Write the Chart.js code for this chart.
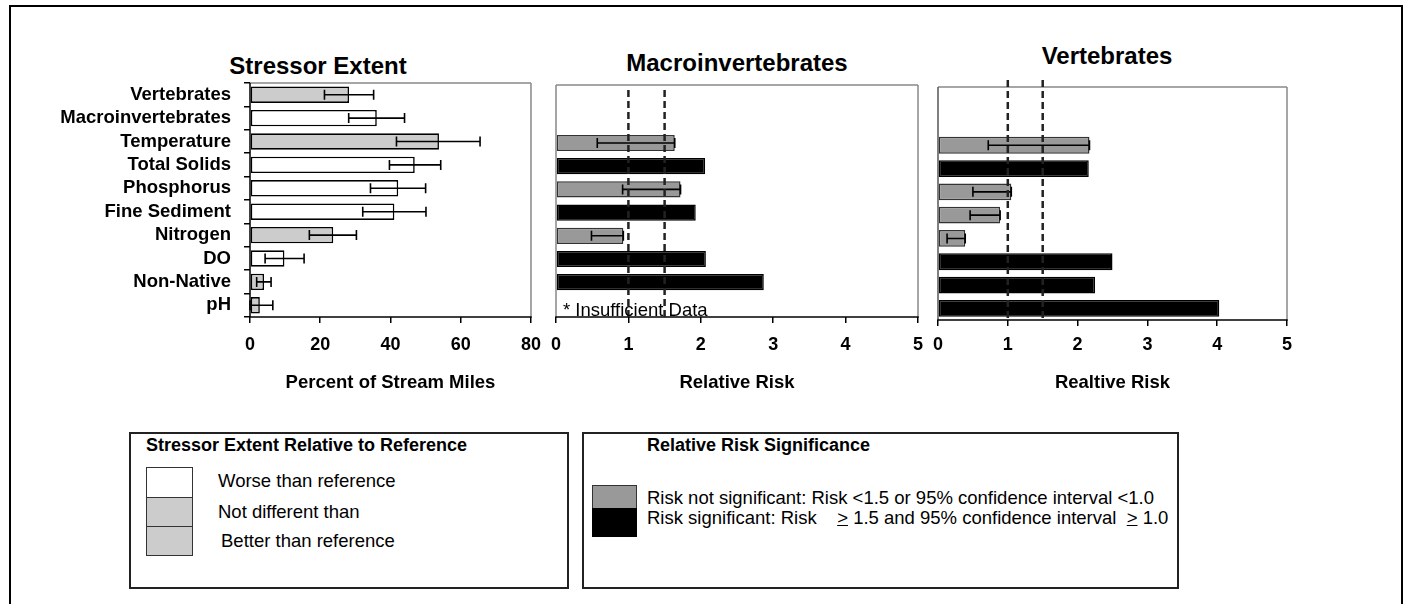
<!DOCTYPE html>
<html><head><meta charset="utf-8">
<script src="https://cdn.jsdelivr.net/npm/chart.js@4.4.1/dist/chart.umd.min.js"></script>
<style>
html,body{margin:0;padding:0;background:#fff;width:1411px;height:604px;overflow:hidden;font-family:"Liberation Sans",Arial,sans-serif;color:#000;}
.abs{position:absolute;}
#frame{left:9px;top:5px;width:1390px;height:700px;border:2px solid #000;box-sizing:content-box;}
.ttl{font-weight:bold;font-size:24px;white-space:nowrap;transform:translate(-50%,-50%);}
.box{border:2px solid #222;box-sizing:border-box;}
.lt{font-size:18.5px;white-space:nowrap;transform:translateY(-50%);}
.lb{font-weight:bold;font-size:18px;white-space:nowrap;transform:translateY(-50%);}
.sw{border:1.5px solid #333;box-sizing:border-box;}
</style>
</head><body>
<div id="frame" class="abs"></div>

<div class="abs ttl" style="left:318px;top:66px;">Stressor Extent</div>
<div class="abs ttl" style="left:737px;top:63px;">Macroinvertebrates</div>
<div class="abs ttl" style="left:1107px;top:56px;">Vertebrates</div>

<div class="abs" style="left:0;top:0;width:552px;height:400px;"><canvas id="c1" width="552" height="400"></canvas></div>
<div class="abs" style="left:540px;top:0;width:400px;height:400px;"><canvas id="c2" width="400" height="400"></canvas></div>
<div class="abs" style="left:925px;top:0;width:400px;height:400px;"><canvas id="c3" width="400" height="400"></canvas></div>

<!-- Legend 1 -->
<div class="abs box" style="left:129px;top:432px;width:440px;height:157px;"></div>
<div class="abs lb" style="left:146px;top:445px;">Stressor Extent Relative to Reference</div>
<div class="abs sw" style="left:146px;top:467px;width:47px;height:31px;background:#fff;"></div>
<div class="abs sw" style="left:146px;top:497px;width:47px;height:30px;background:#cccccc;"></div>
<div class="abs sw" style="left:146px;top:526px;width:47px;height:30px;background:#cccccc;"></div>
<div class="abs lt" style="left:218px;top:481px;">Worse than reference</div>
<div class="abs lt" style="left:218px;top:512px;">Not different than</div>
<div class="abs lt" style="left:221px;top:541px;">Better than reference</div>

<!-- Legend 2 -->
<div class="abs box" style="left:582px;top:432px;width:597px;height:157px;"></div>
<div class="abs lb" style="left:647px;top:445px;">Relative Risk Significance</div>
<div class="abs sw" style="left:592px;top:485px;width:45px;height:24px;background:#999999;"></div>
<div class="abs" style="left:592px;top:508px;width:45px;height:29px;background:#000;"></div>
<div class="abs lt" style="left:647px;top:498px;">Risk not significant: Risk &lt;1.5 or 95% confidence interval &lt;1.0</div>
<div class="abs lt" style="left:647px;top:518px;">Risk significant: Risk &nbsp;&nbsp;&nbsp;<u>&gt;</u> 1.5 and 95% confidence interval &nbsp;<u>&gt;</u> 1.0</div>

<script>
// ---------------- DATA ----------------
const categories = ['Vertebrates','Macroinvertebrates','Temperature','Total Solids','Phosphorus','Fine Sediment','Nitrogen','DO','Non-Native','pH'];

// Stressor extent (% of stream miles)
const extentValues = [28.2, 36.1, 53.8, 46.9, 42.2, 41.1, 23.7, 9.8, 4.0, 2.8];
const extentLow    = [21.2, 28.1, 41.7, 39.7, 34.3, 32.1, 16.9, 4.3, 1.9, 0.0];
const extentHigh   = [35.2, 44.0, 65.5, 54.3, 50.0, 50.1, 30.3, 15.4, 6.0, 6.5];
const extentStatus = ['not','worse','not','worse','worse','worse','not','worse','better','better'];
const extentTicks  = [0, 20, 40, 60, 80];

// Macroinvertebrates relative risk
const macroRisk = [null, null, 1.64, 2.06, 1.72, 1.93, 0.93, 2.07, 2.87, null];
const macroLow  = [null, null, 0.57, null, 0.92, null, 0.49, null, null, null];
const macroSig  = [null, null, false, true, false, true, false, true, true, null];

// Vertebrates relative risk
const vertRisk = [null, null, 2.17, 2.16, 1.05, 0.89, 0.39, 2.50, 2.25, 4.03];
const vertLow  = [null, null, 0.72, null, 0.50, 0.46, 0.13, null, null, null];
const vertSig  = [null, null, false, true, false, false, false, true, true, true];

const riskTicks  = [0, 1, 2, 3, 4, 5];
const thresholds = [1, 1.5];

// ---------------- STYLE ----------------
const FONT = '"Liberation Sans", Arial, sans-serif';
const extentColor = {worse:'#ffffff', not:'#cccccc', better:'#cccccc'};
const sigColor = s => s ? '#000000' : '#999999';
const sigBorder = s => s ? '#000000' : '#333333';

const errorBarPlugin = {
  id: 'errorBars',
  afterDatasetsDraw(chart, args, opts) {
    const {ctx} = chart; const x = chart.scales.x, y = chart.scales.y;
    ctx.save(); ctx.strokeStyle = '#000'; ctx.lineWidth = 1.6;
    opts.low.forEach((lo, i) => {
      if (lo == null) return;
      const hi = opts.high[i];
      const yc = y.getPixelForValue(i);
      const x1 = x.getPixelForValue(lo), x2 = x.getPixelForValue(hi);
      ctx.beginPath();
      ctx.moveTo(x1, yc); ctx.lineTo(x2, yc);
      ctx.moveTo(x1, yc - opts.cap); ctx.lineTo(x1, yc + opts.cap);
      ctx.moveTo(x2, yc - opts.cap); ctx.lineTo(x2, yc + opts.cap);
      ctx.stroke();
    });
    ctx.restore();
  }
};

const framePlugin = {
  id: 'frame',
  afterDatasetsDraw(chart, args, opts) {
    const {ctx, chartArea: a} = chart;
    ctx.save(); ctx.lineWidth = 1.5;
    const seg = (c, x1, y1, x2, y2) => { ctx.strokeStyle = c; ctx.beginPath(); ctx.moveTo(x1, y1); ctx.lineTo(x2, y2); ctx.stroke(); };
    seg(opts.top, a.left, a.top, a.right, a.top);
    seg(opts.right, a.right, a.top, a.right, a.bottom);
    seg(opts.left, a.left, a.top, a.left, a.bottom);
    seg(opts.bottom, a.left - 0.75, a.bottom, a.right + 0.75, a.bottom);
    ctx.restore();
  }
};

const dashPlugin = {
  id: 'dashes',
  afterDatasetsDraw(chart, args, opts) {
    const {ctx, chartArea: a} = chart; const x = chart.scales.x;
    ctx.save(); ctx.strokeStyle = '#222'; ctx.lineWidth = 2.5; ctx.setLineDash([7, 4]);
    opts.values.forEach(v => {
      const px = x.getPixelForValue(v);
      ctx.beginPath(); ctx.moveTo(px, a.top + opts.topOffset); ctx.lineTo(px, a.bottom); ctx.stroke();
    });
    ctx.restore();
  }
};

const notePlugin = {
  id: 'note',
  afterDraw(chart, args, opts) {
    if (!opts.text) return;
    const {ctx, chartArea: a} = chart;
    ctx.save(); ctx.font = '18.5px ' + FONT; ctx.fillStyle = '#000';
    ctx.textBaseline = 'alphabetic'; ctx.textAlign = 'left';
    ctx.fillText(opts.text, a.left + 7, a.bottom - 1);
    ctx.restore();
  }
};

function xScale(max, ticks, title, tickPad, height) {
  return {
    type: 'linear', min: 0, max: max,
    afterFit: s => { s.height = height; },
    afterBuildTicks: s => { s.ticks = ticks.map(v => ({value: v})); },
    border: {display: false},
    grid: {drawOnChartArea: false, drawTicks: true, tickLength: 6, color: '#000', lineWidth: 1.5},
    ticks: {color: '#000', padding: tickPad, font: {family: FONT, size: 18, weight: 'bold'}, maxRotation: 0, autoSkip: false},
    title: {display: true, text: title, color: '#000', font: {family: FONT, size: 18.5, weight: 'bold'}, padding: {top: 0, bottom: 6}}
  };
}

// ---------- Chart 1: Stressor Extent ----------
new Chart(document.getElementById('c1'), {
  type: 'bar',
  data: {
    labels: categories,
    datasets: [{
      data: extentValues,
      backgroundColor: extentStatus.map(s => extentColor[s]),
      borderColor: '#000', borderWidth: 1.6, borderSkipped: false,
      barPercentage: 0.7, categoryPercentage: 1.0
    }]
  },
  options: {
    indexAxis: 'y', responsive: false, animation: false,
    layout: {padding: {top: 83, right: 8, left: 0, bottom: 0}},
    plugins: {legend: {display: false}, tooltip: {enabled: false},
      errorBars: {low: extentLow, high: extentHigh, cap: 5},
      frame: {top: '#888', right: '#888', left: '#000', bottom: '#000'}},
    scales: {
      x: xScale(80, extentTicks, 'Percent of Stream Miles', 11, 83),
      y: {
        afterFit: s => { s.width = 250; },
        border: {display: false},
        grid: {drawOnChartArea: false, drawTicks: true, tickLength: 6, color: '#000', lineWidth: 1.5, offset: true},
        ticks: {color: '#000', padding: 13, font: {family: FONT, size: 18.5, weight: 'bold'}, autoSkip: false}
      }
    }
  },
  plugins: [errorBarPlugin, framePlugin]
});

// ---------- Chart 2: Macroinvertebrates ----------
new Chart(document.getElementById('c2'), {
  type: 'bar',
  data: {
    labels: categories,
    datasets: [{
      data: macroRisk,
      backgroundColor: macroSig.map(sigColor),
      borderColor: macroSig.map(sigBorder), borderWidth: 1.5, borderSkipped: false,
      barPercentage: 0.7, categoryPercentage: 1.0
    }]
  },
  options: {
    indexAxis: 'y', responsive: false, animation: false,
    layout: {padding: {top: 85, right: 22, left: 11, bottom: 0}},
    plugins: {legend: {display: false}, tooltip: {enabled: false},
      errorBars: {low: macroLow, high: macroRisk, cap: 5},
      frame: {top: '#888', right: '#888', left: '#888', bottom: '#000'},
      dashes: {values: thresholds, topOffset: 5},
      note: {text: '* Insufficient Data'}},
    scales: {
      x: xScale(5, riskTicks, 'Relative Risk', 11, 83),
      y: {display: false}
    }
  },
  plugins: [errorBarPlugin, framePlugin, dashPlugin, notePlugin]
});

// ---------- Chart 3: Vertebrates ----------
new Chart(document.getElementById('c3'), {
  type: 'bar',
  data: {
    labels: categories,
    datasets: [{
      data: vertRisk,
      backgroundColor: vertSig.map(sigColor),
      borderColor: vertSig.map(sigBorder), borderWidth: 1.5, borderSkipped: false,
      barPercentage: 0.72, categoryPercentage: 1.0
    }]
  },
  options: {
    indexAxis: 'y', responsive: false, animation: false,
    layout: {padding: {top: 87, right: 38, left: 10, bottom: 0}},
    plugins: {legend: {display: false}, tooltip: {enabled: false},
      errorBars: {low: vertLow, high: vertRisk, cap: 5},
      frame: {top: '#888', right: '#888', left: '#555', bottom: '#000'},
      dashes: {values: thresholds, topOffset: -7}},
    scales: {
      x: xScale(5, riskTicks, 'Realtive Risk', 8, 80),
      y: {display: false}
    }
  },
  plugins: [errorBarPlugin, framePlugin, dashPlugin]
});
</script>
</body></html>
